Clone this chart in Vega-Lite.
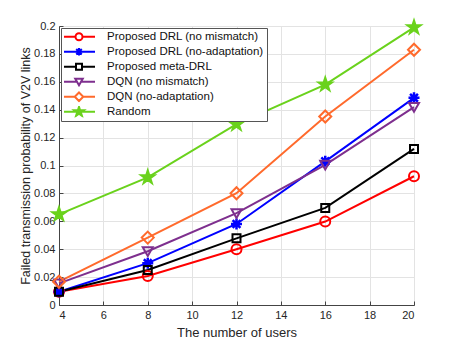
{
  "$schema": "https://vega.github.io/schema/vega-lite/v6.json",
  "autosize": "none",
  "width": 355,
  "height": 279,
  "padding": {"left": 59, "top": 26, "right": 43, "bottom": 38},
  "background": "white",
  "config": {
    "font": "Liberation Sans",
    "view": {"stroke": "#555555", "strokeWidth": 1},
    "axis": {
      "labelFont": "Liberation Sans",
      "titleFont": "Liberation Sans",
      "labelFontSize": 11,
      "titleFontSize": 13,
      "titleFontWeight": "normal",
      "labelColor": "#262626",
      "titleColor": "#262626",
      "domainColor": "#444444",
      "tickColor": "#444444",
      "gridColor": "#e3e3e3",
      "tickSize": -4
    },
    "legend": {
      "title": null,
      "orient": "top-left",
      "offset": 2,
      "padding": 3,
      "fillColor": "white",
      "strokeColor": "#555555",
      "labelFont": "Liberation Sans",
      "labelFontSize": 11.5,
      "labelColor": "#111111",
      "symbolSize": 100,
      "symbolStrokeWidth": 2,
      "symbolOffset": 9,
      "labelOffset": 22,
      "rowPadding": 2,
      "clipHeight": 11.5,
      "labelLimit": 300
    }
  },
  "data": {
    "values": [
      {"x": 4, "y": 0.0095, "s": "Proposed DRL (no mismatch)"},
      {"x": 8, "y": 0.0208, "s": "Proposed DRL (no mismatch)"},
      {"x": 12, "y": 0.040, "s": "Proposed DRL (no mismatch)"},
      {"x": 16, "y": 0.0598, "s": "Proposed DRL (no mismatch)"},
      {"x": 20, "y": 0.0923, "s": "Proposed DRL (no mismatch)"},
      {"x": 4, "y": 0.0095, "s": "Proposed DRL (no-adaptation)"},
      {"x": 8, "y": 0.030, "s": "Proposed DRL (no-adaptation)"},
      {"x": 12, "y": 0.0581, "s": "Proposed DRL (no-adaptation)"},
      {"x": 16, "y": 0.1030, "s": "Proposed DRL (no-adaptation)"},
      {"x": 20, "y": 0.1485, "s": "Proposed DRL (no-adaptation)"},
      {"x": 4, "y": 0.0095, "s": "Proposed meta-DRL"},
      {"x": 8, "y": 0.0251, "s": "Proposed meta-DRL"},
      {"x": 12, "y": 0.0478, "s": "Proposed meta-DRL"},
      {"x": 16, "y": 0.0696, "s": "Proposed meta-DRL"},
      {"x": 20, "y": 0.1119, "s": "Proposed meta-DRL"},
      {"x": 4, "y": 0.0155, "s": "DQN (no mismatch)"},
      {"x": 8, "y": 0.0385, "s": "DQN (no mismatch)"},
      {"x": 12, "y": 0.0658, "s": "DQN (no mismatch)"},
      {"x": 16, "y": 0.1005, "s": "DQN (no mismatch)"},
      {"x": 20, "y": 0.1419, "s": "DQN (no mismatch)"},
      {"x": 4, "y": 0.0167, "s": "DQN (no-adaptation)"},
      {"x": 8, "y": 0.0483, "s": "DQN (no-adaptation)"},
      {"x": 12, "y": 0.0801, "s": "DQN (no-adaptation)"},
      {"x": 16, "y": 0.1351, "s": "DQN (no-adaptation)"},
      {"x": 20, "y": 0.1830, "s": "DQN (no-adaptation)"},
      {"x": 4, "y": 0.0650, "s": "Random"},
      {"x": 8, "y": 0.0915, "s": "Random"},
      {"x": 12, "y": 0.1297, "s": "Random"},
      {"x": 16, "y": 0.1580, "s": "Random"},
      {"x": 20, "y": 0.1990, "s": "Random"}
    ]
  },
  "encoding": {
    "x": {
      "field": "x", "type": "quantitative",
      "scale": {"domain": [4, 20], "nice": false, "zero": false},
      "axis": {"values": [4, 6, 8, 10, 12, 14, 16, 18, 20], "title": "The number of users", "labelPadding": 8, "titlePadding": 6, "grid": true}
    },
    "y": {
      "field": "y", "type": "quantitative",
      "scale": {"domain": [0, 0.2], "nice": false},
      "axis": {"values": [0, 0.02, 0.04, 0.06, 0.08, 0.1, 0.12, 0.14, 0.16, 0.18, 0.2], "format": "~g", "title": "Failed transmission probability of V2V links", "labelPadding": 8, "titlePadding": 1, "titleFontSize": 12.5, "grid": true}
    }
  },
  "layer": [
    {
      "mark": {"type": "line", "strokeWidth": 2},
      "encoding": {
        "color": {
          "field": "s", "type": "nominal",
          "scale": {
            "domain": ["Proposed DRL (no mismatch)", "Proposed DRL (no-adaptation)", "Proposed meta-DRL", "DQN (no mismatch)", "DQN (no-adaptation)", "Random"],
            "range": ["#ff0000", "#0000ff", "#000000", "#7e2f8e", "#ff6a2c", "#6ad21c"]
          },
          "legend": {
            "labelFont": "Liberation Sans",
            "labelFontSize": 11.5,
            "encode": {
              "symbols": {
                "update": {
                  "shape": {"signal": "datum.value === 'Proposed DRL (no mismatch)' ? 'M-3.2,0H-0.7M0.7,0H3.2M0.7,0A0.7,0.7 0 1,0 -0.7,0A0.7,0.7 0 1,0 0.7,0' : datum.value === 'Proposed DRL (no-adaptation)' ? 'M-3.2,0H3.2M0,-0.75V0.75M-0.55,-0.55L0.55,0.55M-0.55,0.55L0.55,-0.55' : datum.value === 'Proposed meta-DRL' ? 'M-3.2,0H-0.6M0.6,0H3.2M-0.6,-0.6H0.6V0.6H-0.6Z' : datum.value === 'DQN (no mismatch)' ? 'M-3.2,0H-0.4M0.4,0H3.2M-0.75,-0.6H0.75L0,0.7Z' : datum.value === 'DQN (no-adaptation)' ? 'M-3.2,0H-0.85M0.85,0H3.2M0,-0.85L0.85,0L0,0.85L-0.85,0Z' : 'M-3.2,0H3.2M0,-1L0.2245,-0.309L0.951,-0.309L0.363,0.118L0.588,0.809L0,0.382L-0.588,0.809L-0.363,0.118L-0.951,-0.309L-0.2245,-0.309Z'"},
                  "fill": {"signal": "datum.value === 'Proposed DRL (no-adaptation)' ? '#0000ff' : datum.value === 'Random' ? '#6ad21c' : 'transparent'"},
                  "strokeWidth": {"value": 2},
                  "opacity": {"value": 1}
                }
              }
            }
          }
        }
      }
    },
    {
      "transform": [{"filter": "datum.s === 'Proposed DRL (no mismatch)'"}],
      "mark": {"type": "point", "shape": "circle", "size": 100, "filled": false, "stroke": "#ff0000", "strokeWidth": 2, "opacity": 1}
    },
    {
      "transform": [{"filter": "datum.s === 'Proposed DRL (no-adaptation)'"}],
      "mark": {"type": "point", "shape": "M0,-1.1V1.1M-1.1,0H1.1M-0.78,-0.78L0.78,0.78M-0.78,0.78L0.78,-0.78", "size": 100, "filled": false, "stroke": "#0000ff", "strokeWidth": 2.5, "opacity": 1}
    },
    {
      "transform": [{"filter": "datum.s === 'Proposed meta-DRL'"}],
      "mark": {"type": "point", "shape": "M-0.8,-0.8H0.8V0.8H-0.8Z", "size": 100, "filled": false, "stroke": "#000000", "strokeWidth": 2, "opacity": 1}
    },
    {
      "transform": [{"filter": "datum.s === 'DQN (no mismatch)'"}],
      "mark": {"type": "point", "shape": "M-1,-0.8H1L0,0.95Z", "size": 100, "filled": false, "stroke": "#7e2f8e", "strokeWidth": 2, "opacity": 1}
    },
    {
      "transform": [{"filter": "datum.s === 'DQN (no-adaptation)'"}],
      "mark": {"type": "point", "shape": "M0,-1.2L1.2,0L0,1.2L-1.2,0Z", "size": 100, "filled": false, "stroke": "#ff6a2c", "strokeWidth": 2, "opacity": 1}
    },
    {
      "transform": [{"filter": "datum.s === 'Random'"}],
      "mark": {"type": "point", "shape": "M0,-1.4L0.314,-0.433L1.331,-0.433L0.508,0.165L0.823,1.133L0,0.535L-0.823,1.133L-0.508,0.165L-1.331,-0.433L-0.314,-0.433Z", "size": 100, "filled": true, "fill": "#6ad21c", "stroke": "#6ad21c", "strokeWidth": 2, "opacity": 1}
    }
  ]
}
